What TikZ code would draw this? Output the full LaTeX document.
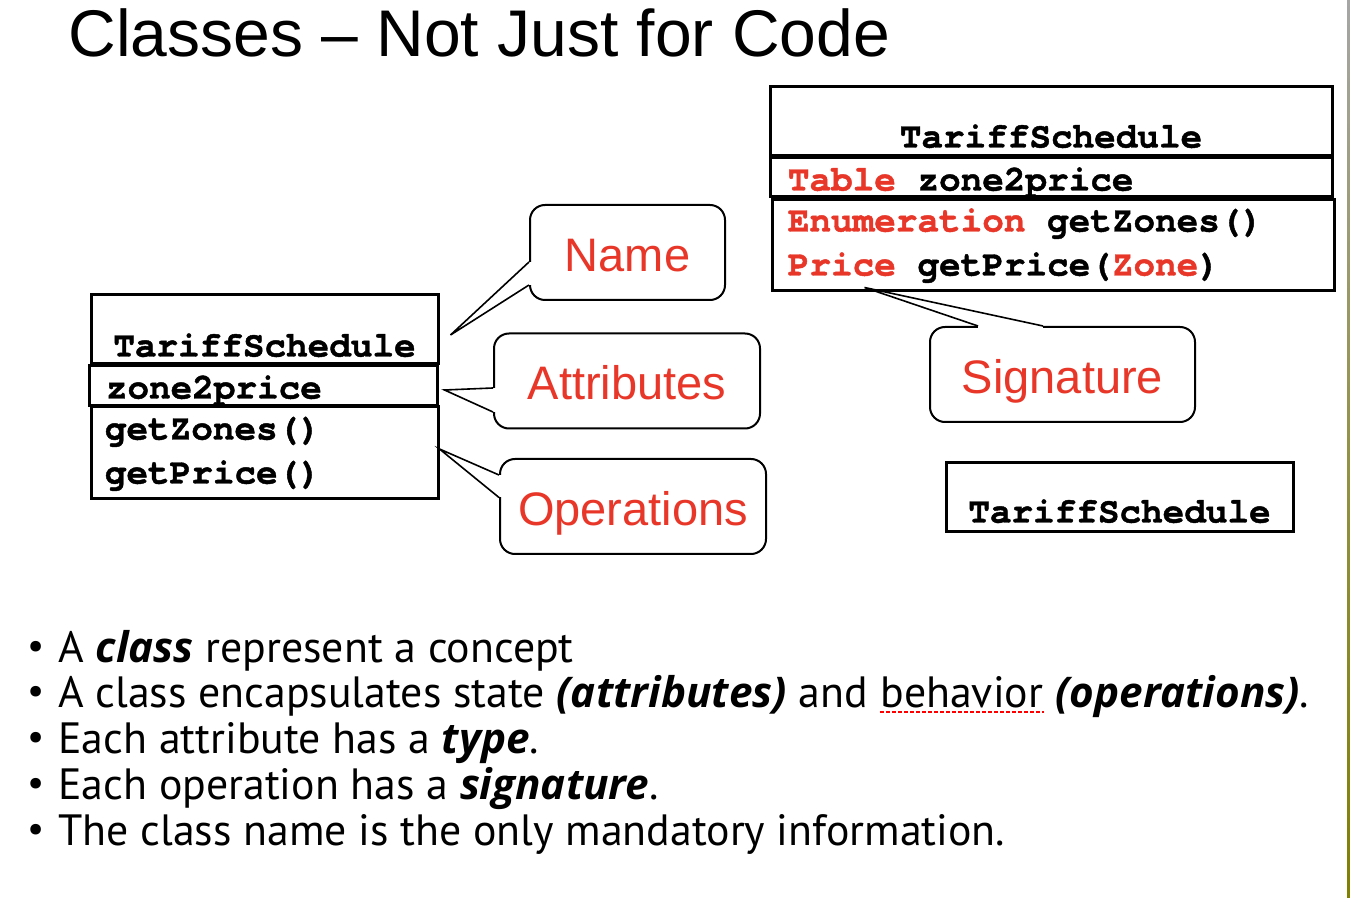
\documentclass[tikz,border=0pt]{standalone}
\usepackage{fontspec}
\setmainfont{PT Sans}
\setmonofont[Ligatures=NoCommon, BoldFeatures={FakeBold=1.2}]{TeX Gyre Cursor}
\newfontfamily\headfont{Liberation Sans}
\newfontfamily\emfont[Scale=0.965]{Open Sans}
\usetikzlibrary{calc}
\definecolor{umlred}{RGB}{232,54,40}
\newcommand{\keyword}[1]{{\emfont\bfseries\itshape #1}}
\newcommand{\itemdot}{\llap{\raisebox{0.08em}{\fontsize{19}{19}\selectfont\textbullet}\hspace{7pt}}}

\begin{document}
\begin{tikzpicture}[x=0.5pt, y=-0.5pt,
  compart/.style={draw, line width=1.5pt, inner sep=0pt},
  member/.style={font=\ttfamily\bfseries\fontsize{18}{20}\selectfont, inner sep=0pt, anchor=base west},
  classname/.style={member, anchor=base},
  callout/.style={draw, line width=1pt, rounded corners=7.5pt, inner sep=0pt, minimum width=133pt, minimum height=47.5pt, text height=19pt, text depth=0pt, font=\headfont\fontsize{23.5}{26}\selectfont, text=umlred},
  pointer/.style={line width=0.8pt},
  gap/.style={white, line width=2.5pt},
  bullet/.style={font=\fontsize{21.9}{24}\selectfont, inner sep=0pt, anchor=base west}]
  \useasboundingbox (0,0) rectangle (1350,898);
  \fill[white] (0,0) rectangle (1350,898);
  \shade[top color=gray!70, bottom color=olive!60!gray] (1347,0) rectangle (1350,898);

  \node[font=\headfont\fontsize{33}{36}\selectfont, inner sep=0pt, anchor=base west] (title) at (68,57) {Classes – Not Just for Code};

  % full class, left
  \node[compart, minimum width=173.5pt, minimum height=34.5pt] (lname) at (264.5,329.5) {};
  \node[compart, minimum width=174pt, minimum height=20pt] (lattr) at (263,386) {};
  \node[compart, minimum width=173.5pt, minimum height=46pt] (lops) at (264.5,453) {};
  \node[classname] (lnametxt) at ($(lname.south)+(0,-9)$) {TariffSchedule};
  \node[member] (lattrtxt) at ($(lattr.south west)+(18,-9)$) {zone2price};
  \node[member] (lop1) at ($(lops.north west)+(15,34)$) {getZones()};
  \node[member] (lop2) at ($(lops.north west)+(15,78)$) {getPrice()};

  % typed class, right
  \node[compart, minimum width=281pt, minimum height=34.5pt] (rname) at (1051,121.5) {};
  \node[compart, minimum width=281pt, minimum height=19.5pt] (rattr) at (1051,177.5) {};
  \node[compart, minimum width=281pt, minimum height=45.5pt] (rops) at (1053,245.5) {};
  \node[classname] (rnametxt) at ($(rname.south)+(0,-10)$) {TariffSchedule};
  \node[member] (rattrtxt) at ($(rattr.south west)+(19,-8)$) {\textcolor{umlred}{Table} zone2price};
  \node[member] (rop1) at ($(rops.north west)+(17,33)$) {\textcolor{umlred}{Enumeration} getZones()};
  \node[member] (rop2) at ($(rops.north west)+(17,77)$) {\textcolor{umlred}{Price} getPrice(\textcolor{umlred}{Zone})};

  % name only
  \node[compart, minimum width=173.5pt, minimum height=34.5pt] (sname) at (1119.5,497.5) {};
  \node[classname] (snametxt) at ($(sname.south)+(0,-11)$) {TariffSchedule};

  % callouts
  \node[callout, minimum width=97.5pt] (name) at (627.5,252.5) {Name};
  \node[callout] (attr) at (627,381) {Attributes};
  \node[callout] (ops) at (633,506.5) {Operations};
  \node[callout, minimum width=132.5pt] (sig) at (1062.5,374.5) {Signature};

  \coordinate (nametip) at ($(lname.east)+(11,5.5)$);
  \coordinate (attrtip) at ($(lattr.east)+(6,4)$);
  \coordinate (opstip) at ($(lops.east)+(0,-4)$);
  \coordinate (sigtip) at ($(rops.south west)+(94,-5)$);

  \draw[gap] ($(name.west)+(0,9.5)$) -- ($(name.west)+(0,32.5)$);
  \draw[pointer] ($(name.west)+(0,9.5)$) -- (nametip) -- ($(name.west)+(0,32.5)$);
  \draw[gap] ($(attr.west)+(0,7)$) -- ($(attr.west)+(0,31)$);
  \draw[pointer] ($(attr.west)+(0,7)$) -- (attrtip) -- ($(attr.west)+(0,31)$);
  \draw[gap] ($(ops.west)+(0,-31.5)$) -- ($(ops.west)+(0,-9)$);
  \draw[pointer] ($(ops.west)+(0,-31.5)$) -- (opstip) -- ($(ops.west)+(0,-9)$);
  \draw[gap] ($(sig.north)+(-84.5,0)$) -- ($(sig.north)+(-19.5,0)$);
  \draw[pointer] ($(sig.north)+(-84.5,0)$) -- (sigtip) -- ($(sig.north)+(-19.5,0)$);

  % bullet points
  \node[bullet] (item1) at (58,662) {\itemdot A \keyword{class} represent a concept};
  \node[bullet] (item2) at (58,707) {\itemdot A class encapsulates state \keyword{(attributes)} and\ \null};
  \node[bullet] (item2b) at (item2.base east) {behavior};
  \node[bullet] (item2c) at (item2b.base east) {\null\ \keyword{(operations)}.};
  \draw[red, line width=0.8pt, dash pattern=on 2pt off 1pt] ($(item2b.base west)+(0,5)$) -- ($(item2b.base east)+(0,5)$);
  \node[bullet] (item3) at (58,753) {\itemdot Each attribute has a \keyword{type}.};
  \node[bullet] (item4) at (58,799) {\itemdot Each operation has a \keyword{signature}.};
  \node[bullet] (item5) at (58,845) {\itemdot The class name is the only mandatory information.};
\end{tikzpicture}
\end{document}
